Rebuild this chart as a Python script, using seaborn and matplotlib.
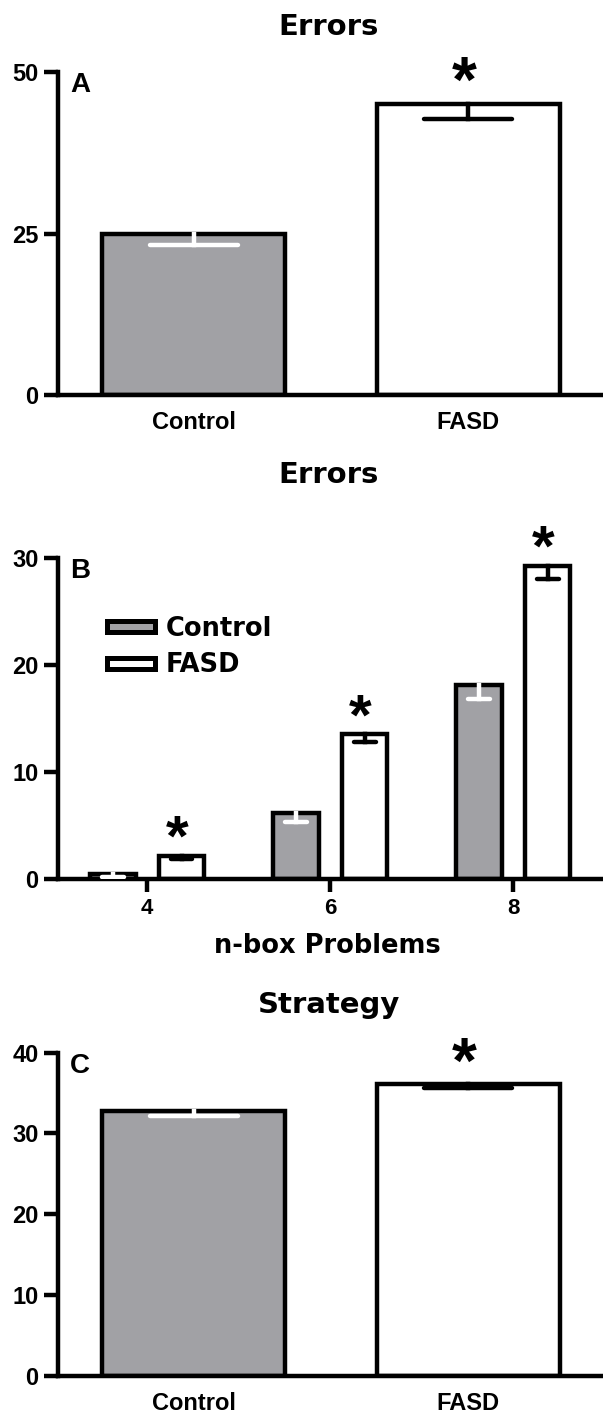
import matplotlib
matplotlib.use("Agg")
import matplotlib.pyplot as plt
from matplotlib.patches import Patch
import seaborn as sns
import pandas as pd

# ---------------- data ----------------
groups = ["Control", "FASD"]

errors_mean = [25.0, 45.0]
errors_sem = [1.75, 2.3]
errors_sig = [False, True]

nbox_levels = ["4", "6", "8"]
nbox_control = [0.45, 6.15, 18.15]
nbox_control_sem = [0.25, 0.8, 1.3]
nbox_fasd = [2.15, 13.5, 29.25]
nbox_fasd_sem = [0.28, 0.75, 1.2]
nbox_fasd_sig = [True, True, True]

strategy_mean = [32.75, 36.1]
strategy_sem = [0.62, 0.44]
strategy_sig = [False, True]

titles = ["Errors", "Errors", "Strategy"]
letters = ["A", "B", "C"]
yticks_a = [0, 25, 50]
yticks_b = [0, 10, 20, 30]
yticks_c = [0, 10, 20, 30, 40]
xlabel_b = "n-box Problems"

GREY = "#a1a1a5"
palette = {"Control": GREY, "FASD": "white"}
err_colors = {"Control": "white", "FASD": "black"}
LW = 3.2

# ---------------- style ----------------
sns.set_style("ticks", rc={"axes.edgecolor": "black", "xtick.color": "black",
                           "ytick.color": "black", "text.color": "black",
                           "axes.labelcolor": "black"})
plt.rcParams["font.family"] = ["Liberation Sans", "DejaVu Sans"]
plt.rcParams["font.weight"] = "bold"
plt.rcParams["axes.labelweight"] = "bold"

W, H = 603, 1412
fig = plt.figure(figsize=(W / 100, H / 100), dpi=100)


def px_rect(top, bottom, left=57.5, right=603):
    return [left / W, 1 - bottom / H, (right - left) / W, (bottom - top) / H]


ax_a = fig.add_axes(px_rect(72, 395.5))
ax_b = fig.add_axes(px_rect(557.7, 879))
ax_c = fig.add_axes(px_rect(1052.7, 1375.7))

df_a = pd.DataFrame({"group": groups, "value": errors_mean,
                     "sem": errors_sem, "sig": errors_sig})
df_b = pd.DataFrame({"n": nbox_levels * 2,
                     "group": ["Control"] * 3 + ["FASD"] * 3,
                     "value": nbox_control + nbox_fasd,
                     "sem": nbox_control_sem + nbox_fasd_sem,
                     "sig": [False] * 3 + nbox_fasd_sig})
df_c = pd.DataFrame({"group": groups, "value": strategy_mean,
                     "sem": strategy_sem, "sig": strategy_sig})

bar_kw = dict(edgecolor="black", linewidth=LW, errorbar=None, saturation=1,
              palette=palette, legend=False)

sns.barplot(data=df_a, x="group", y="value", hue="group", order=groups,
            hue_order=groups, width=0.667, ax=ax_a, **bar_kw)
sns.barplot(data=df_b, x="n", y="value", hue="group", order=nbox_levels,
            hue_order=groups, width=0.75, gap=0.336, ax=ax_b, **bar_kw)
sns.barplot(data=df_c, x="group", y="value", hue="group", order=groups,
            hue_order=groups, width=0.667, ax=ax_c, **bar_kw)


def decorate(ax, df, sort_cols, star_size, star_off):
    bars = sorted([p for p in ax.patches if p.get_width() > 0],
                  key=lambda p: p.get_x())
    rows = df.sort_values(sort_cols).reset_index(drop=True)
    for p, (_, r) in zip(bars, rows.iterrows()):
        cx = p.get_x() + p.get_width() / 2
        top = p.get_height()
        low = top - r["sem"]
        col = err_colors[r["group"]]
        hw = 0.24 * p.get_width()
        ax.vlines(cx, low, top, colors=col, linewidth=LW, zorder=4,
                  capstyle="projecting")
        ax.hlines(low, cx - hw, cx + hw, colors=col, linewidth=LW, zorder=4,
                  capstyle="round")
        if r["sig"]:
            ax.annotate("*", xy=(cx, top), xytext=(-3, star_off),
                        textcoords="offset points", ha="center",
                        va="baseline", fontsize=star_size, fontweight="bold",
                        annotation_clip=False)


decorate(ax_a, df_a, ["group"], 46, 2)
decorate(ax_b, df_b, ["n", "group"], 42, 0)
decorate(ax_c, df_c, ["group"], 46, 1)


def style(ax, ylim, yticks, xlim):
    ax.set_xlim(*xlim)
    ax.set_ylim(*ylim)
    ax.set_yticks(yticks)
    ax.set_xlabel("")
    ax.set_ylabel("")
    for s in ["top", "right"]:
        ax.spines[s].set_visible(False)
    for s in ["left", "bottom"]:
        ax.spines[s].set_linewidth(LW)
    ax.tick_params(axis="y", length=10, width=LW, pad=3.5, labelsize=17)


style(ax_a, (0, 50), yticks_a, (-0.495, 1.49))
style(ax_b, (0, 30), yticks_b, (-0.49, 2.49))
style(ax_c, (0, 40), yticks_c, (-0.495, 1.49))
ax_a.tick_params(axis="x", length=0, pad=11.5, labelsize=17)
ax_c.tick_params(axis="x", length=0, pad=11.5, labelsize=17)
ax_b.tick_params(axis="x", length=9, width=LW, pad=4.9, labelsize=16)

# titles
title_font = dict(family="DejaVu Sans", weight="bold", size=21)
for ax, t, base in zip([ax_a, ax_b, ax_c], titles, [35, 483, 1013]):
    fig.text(329 / W, 1 - base / H, t, ha="center", va="baseline", **title_font)

# panel letters
for ax, L in zip([ax_a, ax_b, ax_c], letters):
    ax.text(0.0229, 1.0, L, transform=ax.transAxes, ha="left", va="top",
            fontsize=20, fontweight="bold")

# x label of panel B
ax_b.set_xlabel(xlabel_b, fontsize=18.5, family="DejaVu Sans", weight="bold")
ax_b.xaxis.set_label_coords(0.4955, -0.168)

# legend of panel B
handles = [Patch(facecolor=palette[g], edgecolor="black", linewidth=LW + 0.4,
                 label=g) for g in groups]
ax_b.legend(handles=handles, loc="upper left",
            bbox_to_anchor=(107 / W, 1 - 615.5 / H),
            bbox_transform=fig.transFigure, frameon=False, borderpad=0,
            borderaxespad=0, handlelength=1.87, handleheight=0.28,
            handletextpad=0.42, labelspacing=0.42,
            prop={"family": "DejaVu Sans", "weight": "bold", "size": 18.5})

fig.savefig("out.png", dpi=100)
